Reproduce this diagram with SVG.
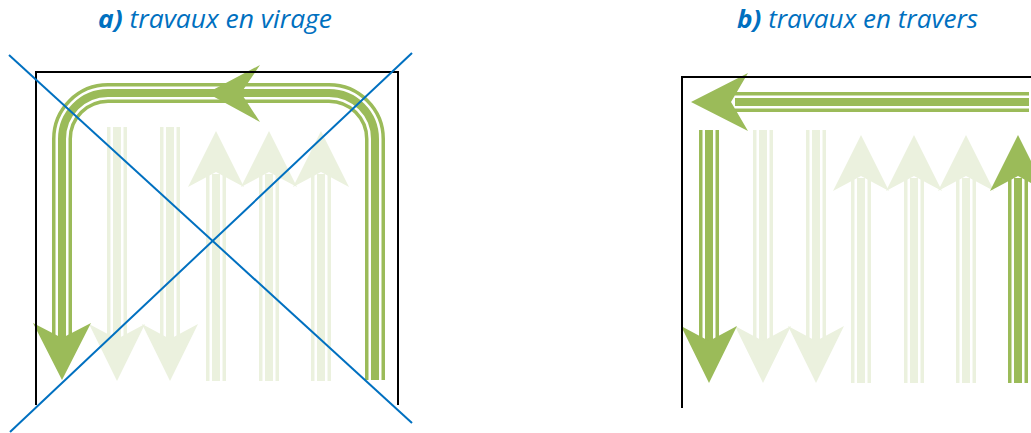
<svg xmlns="http://www.w3.org/2000/svg" width="1031" height="433" viewBox="0 0 1031 433">
<style>
.t{font-family:"Open Sans","Liberation Sans",sans-serif;font-style:italic;font-size:25px;fill:#0070C0}
.t .b{font-weight:bold}
.frame{fill:none;stroke:#000;stroke-width:2}
.x{stroke:#0070C0;stroke-width:2}
.o{fill:none;stroke-width:20}
.w{fill:none;stroke:#fff;stroke-width:13}
.i{fill:none;stroke-width:8}
.dk .o,.dk .i{stroke:#9BBB59}
.dk .h{fill:#9BBB59}
.fd .o,.fd .i{stroke:#EBF1DE}
.fd .h{fill:#EBF1DE}
</style>
<defs>
<path id="dn" d="M0,0 L-28,-57 L0,-42 L28,-57 Z"/>
<path id="up" d="M0,0 L-28,56 L0,41 L28,56 Z"/>
</defs>
<text class="t" x="98" y="28" textLength="234" lengthAdjust="spacingAndGlyphs"><tspan class="b">a)</tspan> travaux en virage</text>
<text class="t" x="737" y="28" textLength="241" lengthAdjust="spacingAndGlyphs"><tspan class="b">b)</tspan> travaux en travers</text>

<g id="panel-a">
<g id="a-faded" class="fd">
<g id="a-f1"><path class="o" d="M117,127V340"/><path class="w" d="M117,127V340"/><path class="i" d="M117,127V340"/><use href="#dn" class="h" x="117" y="381"/></g>
<g id="a-f2"><path class="o" d="M170,127V340"/><path class="w" d="M170,127V340"/><path class="i" d="M170,127V340"/><use href="#dn" class="h" x="170" y="381"/></g>
<g id="a-f3"><path class="o" d="M216,174V381"/><path class="w" d="M216,174V381"/><path class="i" d="M216,174V381"/><use href="#up" class="h" x="216" y="131"/></g>
<g id="a-f4"><path class="o" d="M269,174V381"/><path class="w" d="M269,174V381"/><path class="i" d="M269,174V381"/><use href="#up" class="h" x="269" y="131"/></g>
<g id="a-f5"><path class="o" d="M321,174V381"/><path class="w" d="M321,174V381"/><path class="i" d="M321,174V381"/><use href="#up" class="h" x="321" y="131"/></g>
</g>
<g id="a-path" class="dk">
<path class="o" d="M375,380V139A46,46 0 0 0 329,93H108A46,46 0 0 0 62,139V340"/>
<path class="w" d="M375,380V139A46,46 0 0 0 329,93H108A46,46 0 0 0 62,139V340"/>
<path class="i" d="M375,380V139A46,46 0 0 0 329,93H108A46,46 0 0 0 62,139V340"/>
<path class="h" d="M207,93L260,65L241,93L260,122Z"/>
<path class="h" d="M62,380L33,323L62,338L91,323Z"/>
</g>
<path id="a-frame" class="frame" d="M36,405V72H398V405"/>
<g id="a-cross">
<line class="x" x1="9" y1="55" x2="412" y2="423"/>
<line class="x" x1="412" y1="53" x2="10" y2="432"/>
</g>
</g>

<g id="panel-b">
<g id="b-faded" class="fd">
<g id="b-f1"><path class="o" d="M763,130V342"/><path class="w" d="M763,130V342"/><path class="i" d="M763,130V342"/><use href="#dn" class="h" x="763" y="383"/></g>
<g id="b-f2"><path class="o" d="M816,130V342"/><path class="w" d="M816,130V342"/><path class="i" d="M816,130V342"/><use href="#dn" class="h" x="816" y="383"/></g>
<g id="b-f3"><path class="o" d="M861,178V383"/><path class="w" d="M861,178V383"/><path class="i" d="M861,178V383"/><use href="#up" class="h" x="861" y="135"/></g>
<g id="b-f4"><path class="o" d="M914,178V383"/><path class="w" d="M914,178V383"/><path class="i" d="M914,178V383"/><use href="#up" class="h" x="914" y="135"/></g>
<g id="b-f5"><path class="o" d="M966,178V383"/><path class="w" d="M966,178V383"/><path class="i" d="M966,178V383"/><use href="#up" class="h" x="966" y="135"/></g>
</g>
<g id="b-dark" class="dk">
<g id="b-left"><path class="o" d="M1029,102H735"/><path class="w" d="M1029,102H735"/><path class="i" d="M1029,102H735"/><path class="h" d="M691,102L748,73L731,102L748,131Z"/></g>
<g id="b-down"><path class="o" d="M709,130V342"/><path class="w" d="M709,130V342"/><path class="i" d="M709,130V342"/><use href="#dn" class="h" x="709" y="383"/></g>
<g id="b-up"><path class="o" d="M1018,178V383"/><path class="w" d="M1018,178V383"/><path class="i" d="M1018,178V383"/><use href="#up" class="h" x="1018" y="135"/></g>
</g>
<path id="b-frame" class="frame" d="M682,408V77H1031"/>
</g>
</svg>
